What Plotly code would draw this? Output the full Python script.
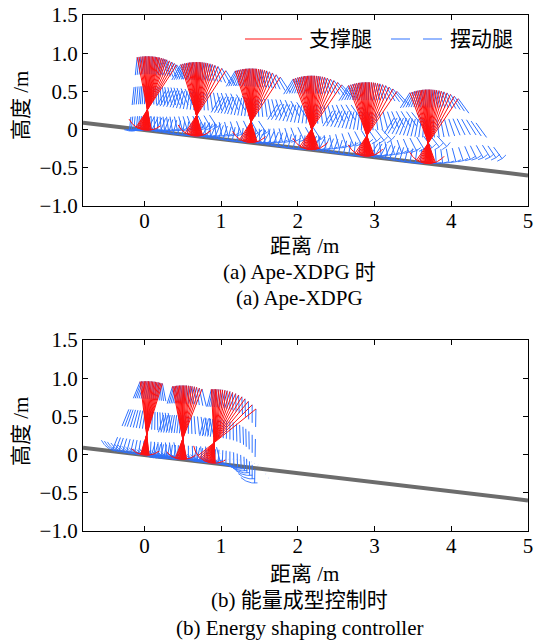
import math
import plotly.graph_objects as go

W, H = 537, 644

# ---------------- data ----------------
GROUND_X = [-0.8, 5.0]
GROUND_Y = [0.09, -0.60]

X_TICKS = [0, 1, 2, 3, 4, 5]
Y_TICKS = [1.5, 1.0, 0.5, 0, -0.5, -1.0]
Y_TICK_TEXT = ["1.5", "1.0", "0.5", "0", "\u22120.5", "\u22121.0"]

# (a) Ape-XDPG : stance pivot x of each step, stance / swing leg angles (deg) per frame
STEP_X_A = [0.04, 0.68, 1.39, 2.18, 2.90, 3.70]
ST_A1 = [-11, -9, -7, -5, -3.5, -2, -0.5, 1, 2.5, 4, 5.5, 7, 8.5, 10, 11.5, 13, 15, 17, 19, 21, 24, 27, 30, 33]
ST_A2 = [-17, -15, -13, -11, -9, -7.5, -6, -4.5, -3, -1.5, 0, 1.5, 3, 4.5, 6, 8, 10, 12, 14.5, 17, 20, 23.5, 28, 33]
ST_A4 = [-20, -17.5, -15, -13, -11, -9, -7.5, -6, -4.5, -3, -1.5, 0, 1.5, 3, 5, 7, 9, 11.5, 14, 17, 20.5, 24.5, 29, 34]
SW_A1 = [-6, -6, -5.5, -5, -4.5, -4, -3, -2, -1, 0, 1.5, 3, 4.5, 6, 8, 10, 12.5, 15, 17.5, 20, 23, 26, 29.5, 33]
SW_A2 = [-30, -28, -26, -24, -22, -20, -17.5, -15, -12.5, -10, -7.5, -5, -2.5, 0, 2.5, 5, 8, 11, 14, 17.5, 21, 25, 29, 33]
SW_A4 = [-32, -30, -27.5, -25, -22.5, -20, -17, -14, -11, -8, -5, -2, 1, 4, 7.5, 11, 15, 19, 23, 27, 31, 35, 38.5, 42]
SW_A6 = [-32, -30, -27.5, -25, -22.5, -20, -17, -14, -11, -8, -5, -2, 1, 4, 7.5, 11, 15, 19, 23, 26, 29, 32, 34, 36]
STANCE_A = [ST_A1, ST_A2, ST_A2, ST_A4, ST_A4, ST_A4]
SWING_A = [SW_A1, SW_A2, SW_A2, SW_A4, SW_A4, SW_A6]

# (b) energy shaping controller
STEP_X_B = [0.03, 0.50, 0.91]
STANCE_B = [
    [-7, -5.5, -4, -2.5, -1, 0.5, 2, 3.5, 5, 6.5, 8, 9.5, 11, 12.5, 14, 15.5, 17],
    [-11, -9.5, -8, -6.5, -5, -3.5, -2, -0.5, 1, 2.5, 4, 6, 8, 10, 12.5, 15, 18, 21],
    [-3, -1.5, 0, 1.5, 3, 5, 7, 9, 11.5, 14, 17, 20, 23.5, 27, 31, 35, 39.5, 45, 51],
]
SWING_B = [
    [-22, -20.5, -19, -17, -15, -13, -11, -9, -7, -5, -3, -1, 1, 3, 5.5, 8, 11],
    [-17, -15.5, -14, -12.5, -11, -9.5, -8, -6.5, -5, -3.5, -2, 0, 2, 4, 6, 8.5, 11, 14],
    [-14, -12.5, -11, -9.5, -8, -6.5, -5, -3.5, -2, -1, 0, 1, 1.5, 2, 2, 1.5, 1, 0, -1],
]

# ---------------- geometry / style ----------------
LEG = 0.97      # leg length
RAD = 0.27      # foot radius
UPPER = LEG - RAD
STANCE_FOOT_HALF = 30
RED = "#ff1010"
BLUE = "#2f72ff"
GRAY = "#6c6c6c"
DASH = "18px,12px"
FONT = "Liberation Serif, Noto Sans CJK SC, serif"


def ground(x):
    t = (x - GROUND_X[0]) / (GROUND_X[1] - GROUND_X[0])
    return GROUND_Y[0] + t * (GROUND_Y[1] - GROUND_Y[0])


def rad(d):
    return math.radians(d)


def build(step_x, stance, swing, foot_half):
    rx, ry, bx, by, ax, ay = [], [], [], [], [], []
    for cx, th_list, ph_list in zip(step_x, stance, swing):
        cy = ground(cx) + RAD
        for th, ph in zip(th_list, ph_list):
            t, p = rad(th), rad(ph)
            hx, hy = cx + UPPER * math.sin(t), cy + UPPER * math.cos(t)
            ex, ey = cx - RAD * math.sin(t), cy - RAD * math.cos(t)
            rx += [hx, ex, None]
            ry += [hy, ey, None]
            fx, fy = hx + LEG * math.sin(p), hy - LEG * math.cos(p)
            bx += [hx, fx, None]
            by += [hy, fy, None]
            sx, sy = hx + UPPER * math.sin(p), hy - UPPER * math.cos(p)
            for k in range(-foot_half, foot_half + 1, 3):
                q = p + rad(k)
                ax.append(sx + RAD * math.sin(q))
                ay.append(sy - RAD * math.cos(q))
            ax.append(None)
            ay.append(None)
        # stance foot arc (union of all frames, same circle)
        lo = -th_list[-1] - STANCE_FOOT_HALF
        hi = -th_list[0] + STANCE_FOOT_HALF
        k = lo
        while k <= hi:
            q = rad(k)
            rx.append(cx + RAD * math.sin(q))
            ry.append(cy - RAD * math.cos(q))
            k += 3
        rx.append(None)
        ry.append(None)
    return rx, ry, bx, by, ax, ay


fig = go.Figure()


def add_panel(n, step_x, stance, swing, foot_half):
    xa, ya = ("x", "y") if n == 1 else ("x2", "y2")
    fig.add_trace(go.Scatter(x=GROUND_X, y=GROUND_Y, mode="lines",
                             line=dict(color=GRAY, width=4), xaxis=xa, yaxis=ya,
                             showlegend=False, hoverinfo="skip"))
    rx, ry, bx, by, ax, ay = build(step_x, stance, swing, foot_half)
    fig.add_trace(go.Scatter(x=ax, y=ay, mode="lines",
                             line=dict(color=BLUE, width=0.9, dash=DASH),
                             xaxis=xa, yaxis=ya, showlegend=False, hoverinfo="skip"))
    fig.add_trace(go.Scatter(x=bx, y=by, mode="lines",
                             line=dict(color=BLUE, width=1, dash=DASH),
                             xaxis=xa, yaxis=ya, showlegend=False, hoverinfo="skip"))
    fig.add_trace(go.Scatter(x=rx, y=ry, mode="lines",
                             line=dict(color=RED, width=1),
                             xaxis=xa, yaxis=ya, showlegend=False, hoverinfo="skip"))


add_panel(1, STEP_X_A, STANCE_A, SWING_A, 15)
add_panel(2, STEP_X_B, STANCE_B, SWING_B, 42)


def px(x):
    return x / W


def py(y):
    return 1 - y / H


axis_common = dict(showline=True, linecolor="black", linewidth=1.2, mirror="ticks",
                   ticks="inside", ticklen=5, tickwidth=1, tickcolor="black",
                   showgrid=False, zeroline=False, automargin=False,
                   tickfont=dict(family=FONT, size=21, color="black"))

xdom = [px(83), px(528)]
fig.update_layout(
    width=W, height=H, margin=dict(l=0, r=0, t=0, b=0, autoexpand=False),
    paper_bgcolor="white", plot_bgcolor="white", showlegend=False,
    xaxis=dict(domain=xdom, range=[-0.8, 5], tickvals=X_TICKS, anchor="y",
               ticklabelstandoff=-4, **axis_common),
    yaxis=dict(domain=[py(206), py(15)], range=[-1, 1.5], tickvals=Y_TICKS,
               ticktext=Y_TICK_TEXT, anchor="x", **axis_common),
    xaxis2=dict(domain=xdom, range=[-0.8, 5], tickvals=X_TICKS, anchor="y2",
                ticklabelstandoff=-4, **axis_common),
    yaxis2=dict(domain=[py(531), py(340)], range=[-1, 1.5], tickvals=Y_TICKS,
                ticktext=Y_TICK_TEXT, anchor="x2", **axis_common),
)

# legend drawn by hand
fig.add_shape(type="line", xref="paper", yref="paper", x0=px(245), x1=px(302),
              y0=py(39), y1=py(39), line=dict(color=RED, width=1.2))
fig.add_shape(type="line", xref="paper", yref="paper", x0=px(391), x1=px(444),
              y0=py(39), y1=py(39), line=dict(color=BLUE, width=1.2, dash="19px,13px"))


def text(x, y, s, size=21, angle=0):
    fig.add_annotation(xref="paper", yref="paper", x=px(x), y=py(y), text=s,
                       showarrow=False, textangle=angle, xanchor="center", yanchor="middle",
                       font=dict(family=FONT, size=size, color="black"))


text(340, 39, "支撑腿")
text(481, 39, "摆动腿")
text(21, 106, "高度 /m", angle=-90)
text(21, 432, "高度 /m", angle=-90)
text(304, 246, "距离 /m")
text(299, 272, "(a) Ape-XDPG 时", size=21)
text(299, 298, "(a) Ape-XDPG", size=21)
text(304, 574, "距离 /m")
text(299, 600, "(b) 能量成型控制时", size=21)
text(299, 628, "(b) Energy shaping controller", size=21)

fig.write_html("out.html")
